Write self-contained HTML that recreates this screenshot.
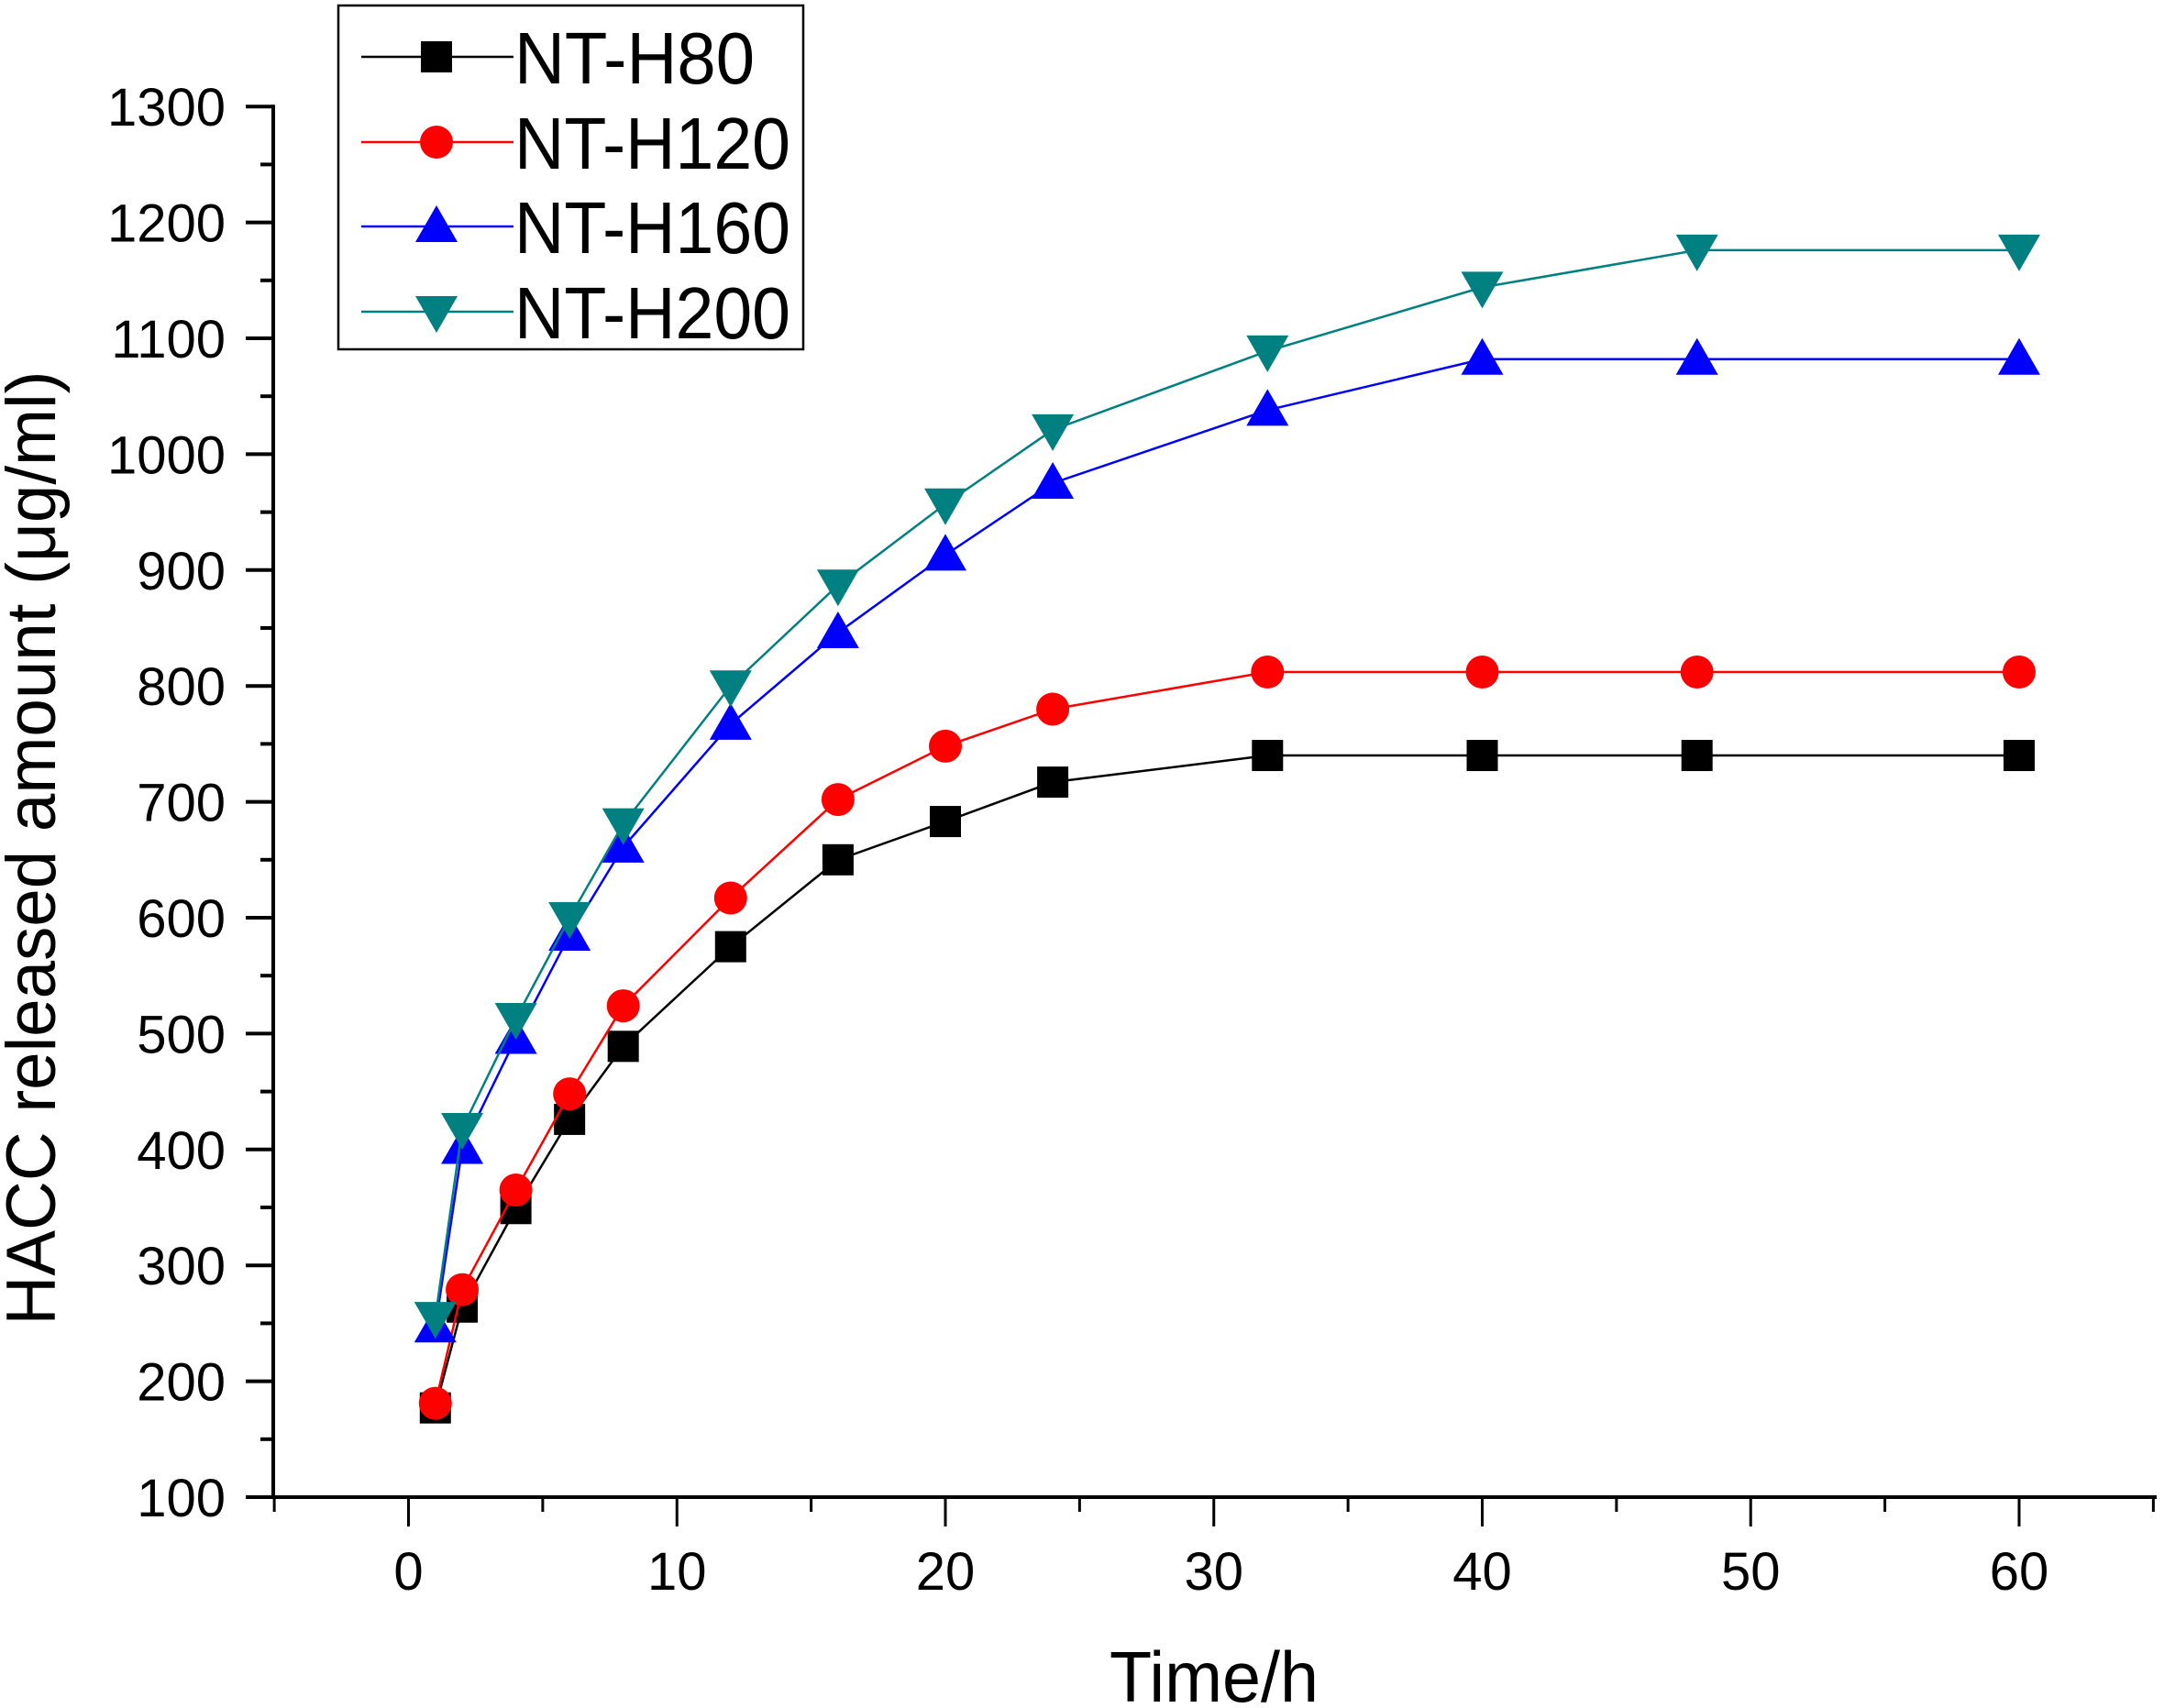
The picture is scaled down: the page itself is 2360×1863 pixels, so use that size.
<!DOCTYPE html>
<html><head><meta charset="utf-8"><style>
html,body{margin:0;padding:0;background:#fff;}
svg{display:block;font-family:"Liberation Sans",Arial,sans-serif;}
</style></head><body>
<svg id="chart" width="2360" height="1863" viewBox="0 0 2360 1863">
<g id="axes"></g>
<g id="series"></g>
<g id="legend"></g>
</svg>
<script>
const times = [1,2,4,6,8,12,16,20,24,32,40,48,60];
const h80  = [177,264,349,426,489,575,650,683,717,740,740,740,740];
const h120 = [181,279,365,448,524,617,702,748,780,812,812,812,812];
const h160 = [247,401,496,585,661,767,846,913,975,1038,1082,1082,1082];
const h200 = [255,418,513,600,681,800,887,957,1021,1089,1144,1176,1176];
const seriesNames = ["NT-H80","NT-H120","NT-H160","NT-H200"];
const yTicks = [100,200,300,400,500,600,700,800,900,1000,1100,1200,1300];
const xTicks = [0,10,20,30,40,50,60];

const NS="http://www.w3.org/2000/svg";
const X0=445.5, XS=29.275, Y0=1633, YS=1.264;
const sx=v=>X0+v*XS, sy=v=>Y0-(v-100)*YS;
function mk(tag,attrs,parent){const e=document.createElementNS(NS,tag);for(const k in attrs)e.setAttribute(k,attrs[k]);parent.appendChild(e);return e;}
const axes=document.getElementById('axes'), ser=document.getElementById('series'), leg=document.getElementById('legend');

// axis lines
let a=mk('line',{x1:298,y1:sy(1300)-2,x2:298,y2:Y0+2,stroke:'#000','stroke-width':4},axes);


a=mk('line',{x1:296,y1:Y0,x2:2352,y2:Y0,stroke:'#000','stroke-width':4},axes);


// y ticks
for(let v=100;v<=1300;v+=50){const maj=v%100===0;const t=mk('line',{x1:298-(maj?30:14),y1:sy(v),x2:298,y2:sy(v),stroke:'#000','stroke-width':4},axes);

}
yTicks.forEach(v=>{const t=mk('text',{x:246,y:sy(v)+21,'text-anchor':'end','font-size':58},axes);t.textContent=v;

});
// x ticks
for(let v=-5;v<=65;v+=5){const maj=v%10===0;const t=mk('line',{x1:sx(v),y1:Y0,x2:sx(v),y2:Y0+(maj?32:16),stroke:'#000','stroke-width':3},axes);

}
xTicks.forEach(v=>{const t=mk('text',{x:sx(v),y:1734,'text-anchor':'middle','font-size':58},axes);t.textContent=v;

});
// titles
let tt=mk('text',{x:1324,y:1856,'text-anchor':'middle','font-size':78,textLength:228,lengthAdjust:'spacingAndGlyphs'},axes);tt.textContent='Time/h';


tt=mk('text',{x:0,y:0,'text-anchor':'middle','font-size':76,textLength:1041,lengthAdjust:'spacingAndGlyphs',transform:'translate(60,925) rotate(-90)'},axes);tt.textContent='HACC released amount (\u03bcg/ml)';



const colors=['#000000','#ff0000','#0000ff','#008080'];
const kinds=['square','circle','up','down'];
function marker(kind,x,y,c,parent){
  if(kind==='square')return mk('rect',{x:x-17,y:y-17,width:34,height:34,fill:c},parent);
  if(kind==='circle')return mk('circle',{cx:x,cy:y,r:18,fill:c},parent);
  if(kind==='up')return mk('polygon',{points:`${x},${y-23} ${x-23},${y+17} ${x+23},${y+17}`,fill:c},parent);
  return mk('polygon',{points:`${x},${y+23} ${x-23},${y-17} ${x+23},${y-17}`,fill:c},parent);
}
[h80,h120,h160,h200].forEach((vals,i)=>{
  const g=mk('g',{},ser);
  
  
  const pl=mk('polyline',{points:times.map((t,j)=>sx(t)+','+sy(vals[j])).join(' '),fill:'none',stroke:colors[i],'stroke-width':2.5},g);
  
  
  times.forEach((t,j)=>{const m=marker(kinds[i],sx(t),sy(vals[j]),colors[i],g);
    
    });
});
// legend
const box=mk('rect',{x:369,y:6,width:507,height:375,fill:'#fff',stroke:'#000','stroke-width':2.5},leg);


const rowsY=[62,155,247,340];
seriesNames.forEach((n,i)=>{
  const g=mk('g',{},leg);
  
  
  mk('line',{x1:394,y1:rowsY[i],x2:560,y2:rowsY[i],stroke:colors[i],'stroke-width':2.5},g);
  marker(kinds[i],476,rowsY[i],colors[i],g);
  const t=mk('text',{x:561,y:rowsY[i]+29,'font-size':80,textLength:n.length===6?262:301,lengthAdjust:'spacingAndGlyphs'},g);
  t.textContent=n;
});
</script>
</body></html>
